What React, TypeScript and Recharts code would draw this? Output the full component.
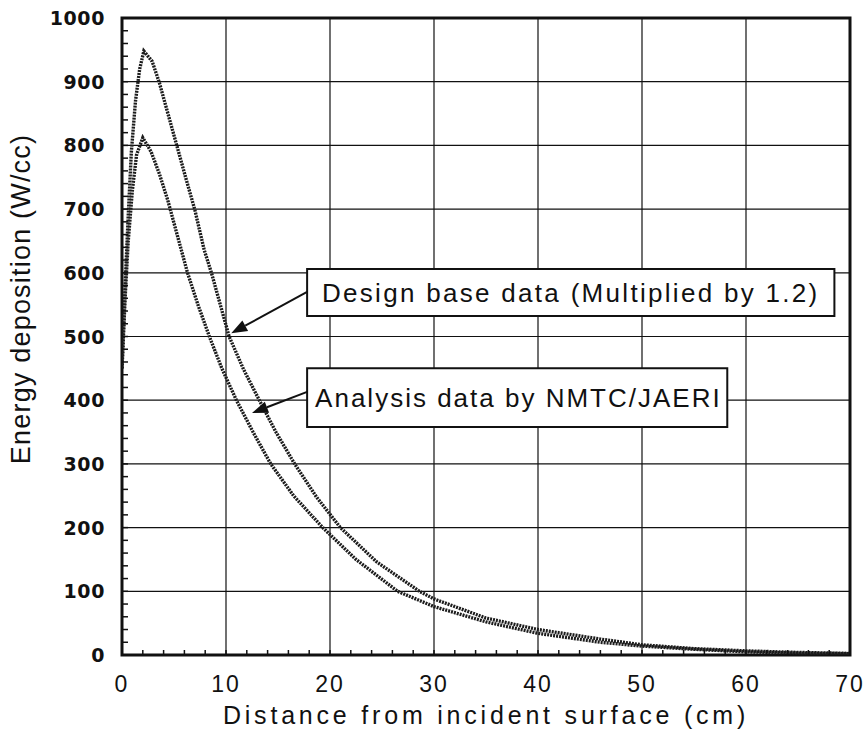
import React from 'react';
import {
  LineChart, Line, XAxis, YAxis, CartesianGrid,
  ReferenceArea, ReferenceLine,
} from 'recharts';

// Design base data (multiplied by 1.2), upper curve
const designX = [0, 0.3, 0.6, 0.9, 1.3, 1.7, 2.1, 2.9, 3.6, 4.5, 5.3, 6.2, 7.0, 7.9, 8.6, 10.3, 11.7, 13.2, 14.8, 16.6, 18.7, 21, 24.5, 28.6, 30, 35, 40, 46, 50, 55, 60, 65, 70];
const designY = [450, 580, 690, 790, 870, 920, 948, 932, 898, 845, 798, 745, 699, 636, 600, 500, 448, 400, 350, 300, 248, 200, 146, 100, 88, 58, 40, 25, 16, 10, 6.5, 4, 2.5];

// Analysis data by NMTC/JAERI, lower curve
const analysisX = [0, 0.3, 0.6, 1.0, 1.4, 2.0, 2.8, 3.6, 4.4, 5.3, 6.3, 7.3, 8.4, 9.6, 11.0, 12.6, 14.3, 16.5, 19.3, 22.5, 26.5, 30, 35, 40, 46, 50, 55, 60, 65, 70];
const analysisY = [450, 560, 650, 730, 785, 812, 790, 755, 714, 660, 600, 550, 500, 450, 400, 350, 300, 250, 200, 150, 100, 76, 52, 34, 20, 14, 9, 5, 3, 2];

const xTicks = [0, 10, 20, 30, 40, 50, 60, 70];
const yTicks = [0, 100, 200, 300, 400, 500, 600, 700, 800, 900, 1000];
// minor ticks, every 2 cm and every 20 W/cc
const xMinorTicks = Array.from({ length: 36 }, (_, i) => i * 2);
const yMinorTicks = Array.from({ length: 51 }, (_, i) => i * 20);

const designData = designX.map((x, i) => ({ x, y: designY[i] }));
const analysisData = analysisX.map((x, i) => ({ x, y: analysisY[i] }));

const INK = '#111';
const CURVE = '#1c1c1c';
const TICK_GAP = 17; // tickSize + tickMargin

const YTick = ({ x, y, payload }: any) => {
  const ax = x + TICK_GAP;
  return (
    <g>
      <line x1={ax} y1={y} x2={ax + 6} y2={y} stroke={INK} strokeWidth={1.5} />
      {payload.value % 100 === 0 && (
        <text x={x} y={y} textAnchor="end" dominantBaseline="central"
          fontFamily="DejaVu Sans" fontWeight="bold" fontSize={19} letterSpacing={0.6} fill={INK}>
          {payload.value}
        </text>
      )}
    </g>
  );
};

const XTick = ({ x, y, payload }: any) => {
  const ay = y - 20;
  return (
    <g>
      <line x1={x} y1={ay} x2={x} y2={ay - 5} stroke={INK} strokeWidth={1.5} />
      {payload.value % 10 === 0 && (
        <text x={x} y={y} textAnchor="middle" dominantBaseline="hanging"
          fontFamily="Liberation Sans" fontSize={23} letterSpacing={2} fill={INK}>
          {payload.value}
        </text>
      )}
    </g>
  );
};

const Arrow = ({ x1, y1, x2, y2 }: any) => {
  const ang = Math.atan2(y2 - y1, x2 - x1);
  const len = 16, half = 6;
  const bx = x2 - len * Math.cos(ang), by = y2 - len * Math.sin(ang);
  const px = -Math.sin(ang) * half, py = Math.cos(ang) * half;
  return (
    <g>
      <line x1={x1} y1={y1} x2={bx} y2={by} stroke={INK} strokeWidth={2} />
      <polygon points={`${x2},${y2} ${bx + px},${by + py} ${bx - px},${by - py}`} fill={INK} />
    </g>
  );
};

const boxText = (text: string, align: 'center' | 'left', spacing: number) => (props: any) => {
  const { x, y, width, height } = props.viewBox;
  return (
    <text
      x={align === 'center' ? x + width / 2 : x + 8}
      y={y + height / 2}
      textAnchor={align === 'center' ? 'middle' : 'start'}
      dominantBaseline="central"
      fontFamily="Liberation Sans" fontSize={26} letterSpacing={spacing} fill={INK}>
      {text}
    </text>
  );
};

export default function App() {
  return (
    <div style={{ position: 'absolute', left: 0, top: 0, background: '#fff' }}>
      <LineChart width={866} height={732} margin={{ top: 18, right: 16, bottom: 17, left: 0 }}>
        <CartesianGrid stroke={INK} strokeWidth={1.2} horizontalValues={yTicks} verticalValues={xTicks} />
        <XAxis dataKey="x" type="number" domain={[0, 70]} ticks={xMinorTicks} allowDataOverflow interval={0}
          height={60} tickLine={false} axisLine={false} tickSize={8} tickMargin={12} tick={<XTick />}
          label={{
            content: (p: any) => (
              <text x={p.viewBox.x + p.viewBox.width / 2} y={p.viewBox.y + 60} textAnchor="middle"
                dominantBaseline="central" fontFamily="Liberation Sans" fontSize={25}
                letterSpacing={3.8} fill={INK}>
                Distance from incident surface (cm)
              </text>
            ),
          }} />
        <YAxis type="number" domain={[0, 1000]} ticks={yMinorTicks} allowDataOverflow width={122} interval={0}
          tickLine={false} axisLine={false} tickSize={8} tickMargin={9} tick={<YTick />}
          label={{
            content: (p: any) => (
              <text x={21} y={p.viewBox.y + 281} textAnchor="middle" dominantBaseline="central"
                transform={`rotate(-90 21 ${p.viewBox.y + 281})`}
                fontFamily="Liberation Sans" fontSize={27} letterSpacing={1.2} fill={INK}>
                Energy deposition (W/cc)
              </text>
            ),
          }} />

        <Line data={designData} dataKey="y" type="linear" stroke={CURVE} strokeWidth={3.4}
          strokeDasharray="2 1" dot={false} isAnimationActive={false} />
        <Line data={analysisData} dataKey="y" type="linear" stroke={CURVE} strokeWidth={3.4}
          strokeDasharray="2 1" dot={false} isAnimationActive={false} />

        <ReferenceArea x1={17.8} x2={68.5} y1={532} y2={606} fill="#fff" fillOpacity={1}
          stroke={INK} strokeWidth={2} label={{ content: boxText('Design base data (Multiplied by 1.2)', 'center', 2.3) }} />
        <ReferenceArea x1={17.8} x2={58.2} y1={358} y2={450} fill="#fff" fillOpacity={1}
          stroke={INK} strokeWidth={2} label={{ content: boxText('Analysis data by NMTC/JAERI', 'left', 2.0) }} />
        <ReferenceLine segment={[{ x: 17.8, y: 570 }, { x: 10.5, y: 505 }]} shape={<Arrow />} />
        <ReferenceLine segment={[{ x: 17.8, y: 413 }, { x: 12.5, y: 380 }]} shape={<Arrow />} />

        <ReferenceArea x1={0} x2={70} y1={0} y2={1000} fill="none" stroke={INK} strokeWidth={3} />
      </LineChart>
    </div>
  );
}
